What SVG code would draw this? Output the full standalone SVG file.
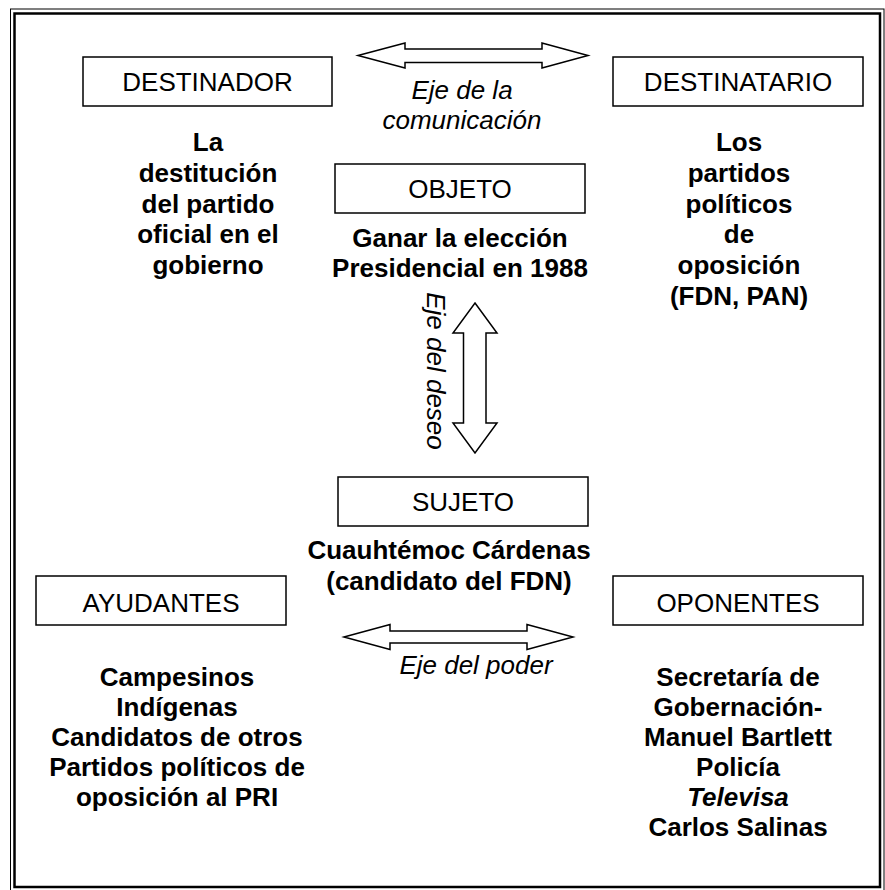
<svg xmlns="http://www.w3.org/2000/svg" width="885" height="890" viewBox="0 0 885 890">
<style>
.box{fill:#fff;stroke:#000;stroke-width:1.5}
.lbl{font-family:"Liberation Sans",Arial,sans-serif;font-size:26px;text-anchor:middle;fill:#000}
.b{font-family:"Liberation Sans",Arial,sans-serif;font-size:26px;font-weight:bold;text-anchor:middle;fill:#000}
.it{font-family:"Liberation Sans",Arial,sans-serif;font-size:26px;font-style:italic;text-anchor:middle;fill:#000}
.arrow{fill:#fff;stroke:#000;stroke-width:1.5;stroke-linejoin:miter}
</style>
<rect x="0" y="0" width="885" height="890" fill="#fff"/>
<g id="frame" fill="none" stroke="#000">
  <rect x="10.5" y="9" width="873.5" height="884" stroke-width="1"/>
  <rect x="14.5" y="13.5" width="865.5" height="873.5" stroke-width="2.5"/>
</g>
<g id="connectors">
  <path class="arrow" d="M358,55.5 L405,43 L405,49 L542,49 L542,43 L588,55.5 L542,68 L542,62.5 L405,62.5 L405,68 Z"/>
  <path class="arrow" d="M475,303 L497,333 L486,333 L486,423 L497,423 L475,453 L453,423 L463.5,423 L463.5,333 L453,333 Z"/>
  <path class="arrow" d="M344,637 L390,624.5 L390,631 L527,631 L527,624.5 L573,637 L527,649.5 L527,643 L390,643 L390,649.5 Z"/>
</g>
<g id="eje-comunicacion">
  <text class="it"><tspan x="462" y="99">Eje de la</tspan><tspan x="462" y="129">comunicación</tspan></text>
</g>
<g id="eje-deseo">
  <text class="it" transform="translate(427,371) rotate(90)" x="0" y="0">Eje del deseo</text>
</g>
<g id="eje-poder">
  <text class="it" x="476" y="674">Eje del poder</text>
</g>
<g id="destinador">
  <rect class="box" x="83" y="57" width="249" height="49"/>
  <text class="lbl" x="207.5" y="91">DESTINADOR</text>
  <text class="b"><tspan x="208" y="151">La</tspan><tspan x="208" y="182">destitución</tspan><tspan x="208" y="212.5">del partido</tspan><tspan x="208" y="243">oficial en el</tspan><tspan x="208" y="274">gobierno</tspan></text>
</g>
<g id="destinatario">
  <rect class="box" x="613" y="57" width="250" height="49"/>
  <text class="lbl" x="738" y="91">DESTINATARIO</text>
  <text class="b"><tspan x="739" y="151">Los</tspan><tspan x="739" y="182">partidos</tspan><tspan x="739" y="212.5">políticos</tspan><tspan x="739" y="243">de</tspan><tspan x="739" y="274">oposición</tspan><tspan x="739" y="305">(FDN, PAN)</tspan></text>
</g>
<g id="objeto">
  <rect class="box" x="335" y="164" width="250" height="49"/>
  <text class="lbl" x="460" y="198">OBJETO</text>
  <text class="b"><tspan x="460" y="247">Ganar la elección</tspan><tspan x="460" y="277">Presidencial en 1988</tspan></text>
</g>
<g id="sujeto">
  <rect class="box" x="338" y="477" width="250" height="49"/>
  <text class="lbl" x="463" y="511">SUJETO</text>
  <text class="b"><tspan x="449" y="559">Cuauhtémoc Cárdenas</tspan><tspan x="449" y="590">(candidato del FDN)</tspan></text>
</g>
<g id="ayudantes">
  <rect class="box" x="36" y="576" width="250" height="49"/>
  <text class="lbl" x="161" y="612">AYUDANTES</text>
  <text class="b"><tspan x="177" y="686">Campesinos</tspan><tspan x="177" y="716">Indígenas</tspan><tspan x="177" y="746">Candidatos de otros</tspan><tspan x="177" y="776">Partidos políticos de</tspan><tspan x="177" y="806">oposición al PRI</tspan></text>
</g>
<g id="oponentes">
  <rect class="box" x="613" y="576" width="250" height="49"/>
  <text class="lbl" x="738" y="612">OPONENTES</text>
  <text class="b"><tspan x="738" y="686">Secretaría de</tspan><tspan x="738" y="716">Gobernación-</tspan><tspan x="738" y="746">Manuel Bartlett</tspan><tspan x="738" y="776">Policía</tspan><tspan x="738" y="806" font-style="italic">Televisa</tspan><tspan x="738" y="836">Carlos Salinas</tspan></text>
</g>
</svg>
